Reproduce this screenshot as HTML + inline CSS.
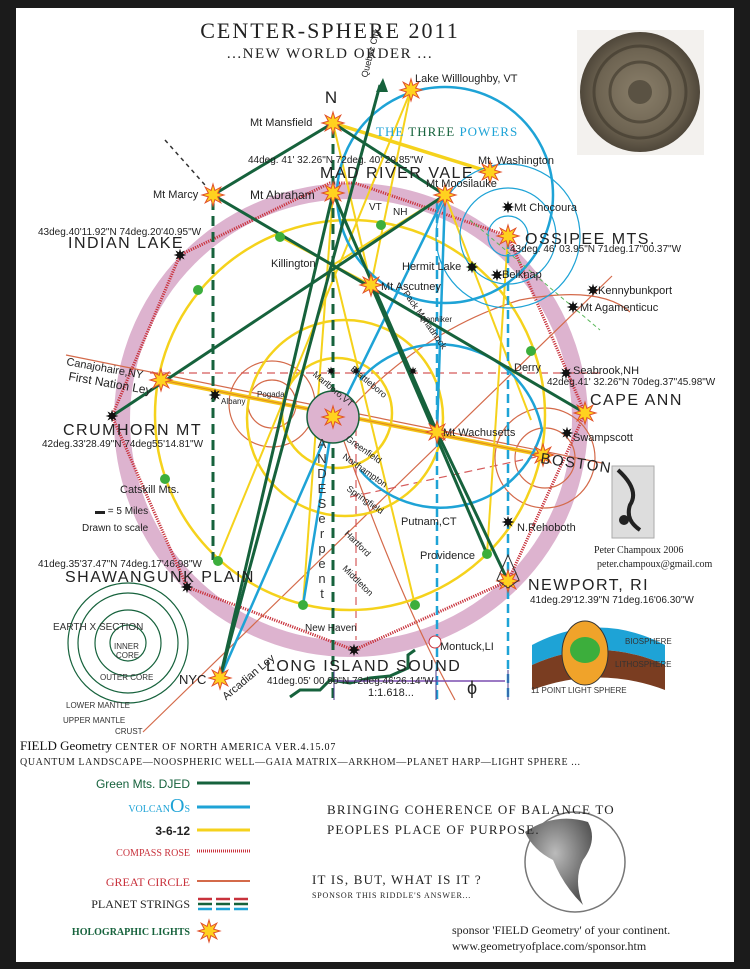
<!DOCTYPE html>
<html><head><meta charset="utf-8"><style>
html,body{margin:0;padding:0;background:#1b1b1b;}
svg{display:block;}
text{font-family:"Liberation Sans",sans-serif;}
.t{font-family:"Liberation Serif",serif;}
</style></head><body>
<svg width="750" height="969" viewBox="0 0 750 969" xmlns="http://www.w3.org/2000/svg">
<defs>
<symbol id="ys" viewBox="-12 -12 24 24" overflow="visible">
<polygon points="0,-11 1.91,-4.62 7.78,-7.78 4.62,-1.91 11,0 4.62,1.91 7.78,7.78 1.91,4.62 0,11 -1.91,4.62 -7.78,7.78 -4.62,1.91 -11,0 -4.62,-1.91 -7.78,-7.78 -1.91,-4.62" fill="#ffd21f" stroke="#e0502a" stroke-width="1"/>
</symbol>
<symbol id="bs" viewBox="-12 -12 24 24" overflow="visible">
<polygon points="0,-11 1.91,-4.62 7.78,-7.78 4.62,-1.91 11,0 4.62,1.91 7.78,7.78 1.91,4.62 0,11 -1.91,4.62 -7.78,7.78 -4.62,1.91 -11,0 -4.62,-1.91 -7.78,-7.78 -1.91,-4.62" fill="#111"/>
</symbol>
<radialGradient id="az" cx="50%" cy="50%" r="50%"><stop offset="0" stop-color="#8a7f6a"/><stop offset="0.7" stop-color="#6e6452"/><stop offset="1" stop-color="#4f473a"/></radialGradient>
<radialGradient id="gl" cx="45%" cy="40%" r="60%"><stop offset="0" stop-color="#bbb"/><stop offset="1" stop-color="#555"/></radialGradient>
</defs>
<rect x="16" y="8" width="718" height="954" fill="#fff"/>

<!-- title -->
<text x="330" y="38" text-anchor="middle" class="t" font-size="22" letter-spacing="2" fill="#222">CENTER-SPHERE 2011</text>
<text x="330" y="58" text-anchor="middle" class="t" font-size="15" letter-spacing="1.5" fill="#222">...NEW WORLD ORDER ...</text>
<!-- aztec stone -->
<rect x="577" y="30" width="127" height="125" fill="#f3f1ee"/>
<circle cx="640" cy="92" r="60" fill="url(#az)"/>
<circle cx="640" cy="92" r="46" fill="none" stroke="#3e372c" stroke-width="3" opacity="0.6"/>
<circle cx="640" cy="92" r="30" fill="none" stroke="#3e372c" stroke-width="3" opacity="0.6"/>
<circle cx="640" cy="92" r="12" fill="#5a5243"/>

<!-- pink band -->
<circle cx="351" cy="420" r="229" fill="none" stroke="#ddb3cf" stroke-width="16"/>
<polygon points="180,255 330,183 355,183 508,236 585,413 508,581 354,650 187,587 112,416" fill="none" stroke="#c8323c" stroke-width="3" stroke-dasharray="1.2 1.2"/>

<!-- great circle thin lines -->
<g stroke="#d46a4a" stroke-width="1.2" fill="none">
<line x1="66" y1="355" x2="602" y2="463"/>
<line x1="143" y1="732" x2="612" y2="276"/>
<path d="M340 420 Q420 330 520 300 Q600 285 630 312"/>
<path d="M340 430 Q400 600 455 700"/>
<circle cx="272" cy="404" r="43"/><circle cx="272" cy="404" r="24"/>
<circle cx="545" cy="458" r="50"/><circle cx="545" cy="458" r="30"/>
</g>
<g stroke="#d55a5a" stroke-width="1.2" stroke-dasharray="8 5" fill="none">
<line x1="150" y1="373" x2="600" y2="373"/>
<line x1="350" y1="497" x2="545" y2="455"/>
<line x1="356" y1="415" x2="356" y2="640"/>
</g>

<!-- yellow circles -->
<g stroke="#f5d21c" stroke-width="2.5" fill="none">
<circle cx="350" cy="415" r="195"/>
<circle cx="345" cy="418" r="98"/>
<circle cx="337" cy="413" r="55"/>
</g>
<g stroke="#f5d21c" stroke-width="2" fill="none">
<line x1="411" y1="90" x2="371" y2="285"/>
<line x1="411" y1="90" x2="218" y2="560"/>
<line x1="333" y1="123" x2="371" y2="285"/>
<line x1="333" y1="193" x2="303" y2="605"/>
<line x1="445" y1="195" x2="333" y2="265"/>
<line x1="445" y1="195" x2="531" y2="420"/>
<line x1="333" y1="265" x2="415" y2="605"/>
<line x1="508" y1="236" x2="487" y2="554"/>
<line x1="371" y1="285" x2="280" y2="237"/>
</g>
<line x1="333" y1="123" x2="490" y2="172" stroke="#f5d21c" stroke-width="3.5"/>
<line x1="161" y1="380" x2="543" y2="455" stroke="#f5c518" stroke-width="4"/>
<line x1="161" y1="380" x2="543" y2="455" stroke="#e08a20" stroke-width="1"/>

<!-- blue circles -->
<g stroke="#1ea3d6" stroke-width="2.5" fill="none">
<circle cx="445" cy="195" r="108"/>
<path d="M360 380 A105 105 0 0 1 542 430 A105 105 0 0 1 360 470"/>
</g>
<g stroke="#1ea3d6" stroke-width="1.2" fill="none">
<circle cx="508" cy="236" r="20"/><circle cx="508" cy="236" r="48"/><circle cx="508" cy="236" r="72"/>
</g>
<g stroke="#1ea3d6" stroke-width="2.5" fill="none">
<line x1="445" y1="195" x2="335" y2="420"/>
<line x1="333" y1="420" x2="220" y2="678"/>
<line x1="333" y1="420" x2="303" y2="605"/>
<line x1="445" y1="195" x2="437" y2="432"/>
</g>
<g stroke="#1ea3d6" stroke-width="2.5" stroke-dasharray="9 5">
<line x1="437" y1="200" x2="437" y2="700"/>
<line x1="508" y1="240" x2="508" y2="700"/>
</g>

<!-- dark green lines -->
<g stroke="#16623c" stroke-width="3" fill="none">
<line x1="333" y1="123" x2="213" y2="195"/>
<line x1="333" y1="123" x2="445" y2="195"/>
<line x1="213" y1="195" x2="585" y2="413"/>
<line x1="112" y1="416" x2="445" y2="195"/>
<line x1="333" y1="193" x2="437" y2="432"/>
<line x1="437" y1="432" x2="508" y2="581"/>
<line x1="371" y1="285" x2="487" y2="554"/>
<line x1="220" y1="678" x2="333" y2="193"/>
<line x1="220" y1="678" x2="380" y2="85"/>
<path d="M290 697 L300 690 L320 690 L330 680 L350 683 L370 678 L390 676 L408 668 L408 655 L415 650"/>
</g>
<polygon points="383,78 376,92 388,92" fill="#16623c"/>
<g stroke="#16623c" stroke-width="3" stroke-dasharray="10 6">
<line x1="213" y1="200" x2="213" y2="560"/>
<line x1="333" y1="128" x2="333" y2="700"/>
</g>
<line x1="165" y1="140" x2="205" y2="185" stroke="#333" stroke-width="1.5" stroke-dasharray="4 4"/>
<line x1="470" y1="220" x2="600" y2="330" stroke="#5cb85c" stroke-width="1" stroke-dasharray="4 3"/>

<line x1="335" y1="681" x2="505" y2="681" stroke="#7b4fb0" stroke-width="1.5"/>
<g stroke="#4a3a8a" stroke-width="1"><line x1="334" y1="670" x2="334" y2="700"/><line x1="436" y1="670" x2="436" y2="700"/><line x1="508" y1="670" x2="508" y2="700"/></g>
<circle cx="435" cy="642" r="6" fill="#fff" stroke="#c8323c"/>

<circle cx="333" cy="417" r="26" fill="#ddb3cf" stroke="#16623c" stroke-width="1.5"/>

<g fill="#3cae3c">
<circle cx="280" cy="237" r="5"/><circle cx="381" cy="225" r="5"/><circle cx="198" cy="290" r="5"/><circle cx="531" cy="351" r="5"/><circle cx="165" cy="479" r="5"/><circle cx="218" cy="561" r="5"/><circle cx="303" cy="605" r="5"/><circle cx="415" cy="605" r="5"/><circle cx="487" cy="554" r="5"/><circle cx="472" cy="267" r="4"/>
</g>

<g>
<use href="#ys" x="399" y="78" width="24" height="24"/>
<use href="#ys" x="321" y="111" width="24" height="24"/>
<use href="#ys" x="478" y="160" width="24" height="24"/>
<use href="#ys" x="201" y="183" width="24" height="24"/>
<use href="#ys" x="321" y="181" width="24" height="24"/>
<use href="#ys" x="433" y="183" width="24" height="24"/>
<use href="#ys" x="496" y="224" width="24" height="24"/>
<use href="#ys" x="359" y="273" width="24" height="24"/>
<use href="#ys" x="149" y="368" width="24" height="24"/>
<use href="#ys" x="573" y="401" width="24" height="24"/>
<use href="#ys" x="321" y="405" width="24" height="24"/>
<use href="#ys" x="425" y="420" width="24" height="24"/>
<use href="#ys" x="531" y="443" width="24" height="24"/>
<use href="#ys" x="496" y="569" width="24" height="24"/>
<use href="#ys" x="208" y="666" width="24" height="24"/>
</g>
<g>
<use href="#bs" x="501" y="200" width="14" height="14"/>
<use href="#bs" x="173" y="248" width="14" height="14"/>
<use href="#bs" x="465" y="260" width="14" height="14"/>
<use href="#bs" x="490" y="268" width="14" height="14"/>
<use href="#bs" x="586" y="283" width="14" height="14"/>
<use href="#bs" x="566" y="300" width="14" height="14"/>
<use href="#bs" x="559" y="366" width="14" height="14"/>
<use href="#bs" x="208" y="388" width="14" height="14"/>
<use href="#bs" x="105" y="409" width="14" height="14"/>
<use href="#bs" x="560" y="426" width="14" height="14"/>
<use href="#bs" x="501" y="515" width="14" height="14"/>
<use href="#bs" x="180" y="580" width="14" height="14"/>
<use href="#bs" x="347" y="643" width="14" height="14"/>
<use href="#bs" x="326" y="366" width="10" height="10"/>
<use href="#bs" x="351" y="366" width="10" height="10"/>
<use href="#bs" x="408" y="366" width="10" height="10"/>
</g>
<polygon points="508,555 497,580 508,588 519,580" fill="none" stroke="#333" stroke-width="1"/>

<g font-size="11" fill="#222">
<text x="331" y="103" text-anchor="middle" font-size="17">N</text>
<text x="415" y="82">Lake Willloughby, VT</text>
<text x="250" y="126">Mt Mansfield</text>
<text x="478" y="164">Mt. Washington</text>
<text x="153" y="198">Mt Marcy</text>
<text x="250" y="199" font-size="12">Mt Abraham</text>
<text x="426" y="187">Mt Moosilauke</text>
<text x="514" y="211">Mt Chocoura</text>
<text x="369" y="210" font-size="10">VT</text><text x="393" y="215" font-size="10">NH</text>
<text x="271" y="267">Killington</text>
<text x="402" y="270">Hermit Lake</text>
<text x="502" y="278">Belknap</text>
<text x="381" y="290">Mt Ascutney</text>
<text x="598" y="294">Kennybunkport</text>
<text x="580" y="311">Mt Agamenticuc</text>
<text x="420" y="322" font-size="8">Henniker</text>
<text x="514" y="371">Derry</text>
<text x="573" y="374">Seabrook,NH</text>
<text x="66" y="365" transform="rotate(10 66 365)">Canajohaire,NY</text>
<text x="68" y="380" font-size="12" transform="rotate(10 68 380)">First Nation Ley</text>
<text x="221" y="404" font-size="8">Albany</text>
<text x="257" y="397" font-size="8">Pogada</text>
<text x="547" y="385" font-size="10">42deg.41' 32.26"N  70deg.37"45.98"W</text>
<text x="443" y="436">Mt Wachusetts</text>
<text x="573" y="441">Swampscott</text>
<text x="120" y="493">Catskill Mts.</text>
<text x="95" y="514" font-size="10">▬ = 5 Miles</text>
<text x="82" y="531" font-size="10">Drawn to scale</text>
<text x="401" y="525">Putnam,CT</text>
<text x="517" y="531">N.Rehoboth</text>
<text x="420" y="559">Providence</text>
<text x="594" y="553" font-size="10" class="t">Peter Champoux 2006</text>
<text x="597" y="567" font-size="10" class="t">peter.champoux@gmail.com</text>
<text x="530" y="603" font-size="10">41deg.29'12.39"N  71deg.16'06.30"W</text>
<text x="305" y="631" font-size="10">New Haven</text>
<text x="440" y="650">Montuck,LI</text>
<text x="179" y="684" font-size="13">NYC</text>
<text x="368" y="696" font-size="11">1:1.618...</text>
<text x="467" y="694" font-size="18">ϕ</text>
<text x="38" y="235" font-size="10">43deg.40'11.92"N  74deg.20'40.95"W</text>
<text x="42" y="447" font-size="10">42deg.33'28.49"N  74deg55'14.81"W</text>
<text x="38" y="567" font-size="10">41deg.35'37.47"N  74deg.17'46.98"W</text>
<text x="248" y="163" font-size="10">44deg. 41' 32.26"N  72deg. 40' 29.85"W</text>
<text x="510" y="252" font-size="10">43deg. 46' 03.95"N  71deg.17"00.37"W</text>
<text x="267" y="684" font-size="10">41deg.05' 00.90"N 72deg.46'26.14"W</text>
<text x="316" y="365" font-size="9" transform="rotate(40 300 365)">Marlboro,VT</text>
<text x="350" y="370" font-size="9" transform="rotate(40 350 370)">Brattleboro</text>
<text x="345" y="440" font-size="9" transform="rotate(35 345 440)">Greenfield</text>
<text x="342" y="458" font-size="9" transform="rotate(35 342 458)">Northampton</text>
<text x="346" y="490" font-size="9" transform="rotate(35 346 490)">Springfield</text>
<text x="344" y="534" font-size="9" transform="rotate(45 344 534)">Hartford</text>
<text x="342" y="569" font-size="9" transform="rotate(45 342 569)">Middleton</text>
<text x="380" y="323" font-size="9" transform="rotate(55 420 330)">Pack Monadnock</text>
<text x="215" y="690" font-size="11" transform="rotate(-40 235 680)">Arcadian Ley</text>
<text x="367" y="78" font-size="9" transform="rotate(-75 367 78)">Quebec City</text>
</g>
<g fill="#333" font-size="13" text-anchor="middle">
<text x="322" y="448">A</text><text x="322" y="463">N</text><text x="322" y="478">D</text><text x="322" y="493">E</text><text x="322" y="508">S</text><text x="322" y="523">e</text><text x="322" y="538">r</text><text x="322" y="553">p</text><text x="322" y="568">e</text><text x="322" y="583">n</text><text x="322" y="598">t</text>
</g>
<g class="t" fill="#222" letter-spacing="1.5">
<text x="320" y="178" font-size="16">MAD RIVER VALE</text>
<text x="68" y="248" font-size="16">INDIAN LAKE</text>
<text x="525" y="244" font-size="16">OSSIPEE MTS.</text>
<text x="590" y="405" font-size="16">CAPE ANN</text>
<text x="63" y="435" font-size="16">CRUMHORN MT</text>
<text x="540" y="463" font-size="15" transform="rotate(8 540 463)">BOSTON</text>
<text x="528" y="590" font-size="16">NEWPORT, RI</text>
<text x="65" y="582" font-size="16">SHAWANGUNK PLAIN</text>
<text x="266" y="671" font-size="16">LONG ISLAND SOUND</text>
</g>
<text x="376" y="136" class="t" font-size="13" letter-spacing="1" fill="#1ea3d6">THE <tspan fill="#16623c">THREE</tspan> POWERS</text>

<rect x="612" y="466" width="42" height="72" fill="#ddd" stroke="#aaa"/>
<path d="M618 470 Q640 490 630 505 Q625 520 640 530" stroke="#222" stroke-width="4" fill="none"/>
<circle cx="624" cy="520" r="5" fill="#222"/>

<g stroke="#16623c" stroke-width="1.2" fill="none">
<circle cx="128" cy="643" r="60"/><circle cx="128" cy="643" r="50"/><circle cx="128" cy="643" r="33"/><circle cx="128" cy="643" r="18"/>
</g>
<g class="t" font-size="8" fill="#333">
<text x="53" y="630" font-size="10">EARTH X SECTION</text>
<text x="114" y="649">INNER</text><text x="116" y="658">CORE</text>
<text x="100" y="680">OUTER CORE</text>
<text x="66" y="708">LOWER MANTLE</text>
<text x="63" y="723">UPPER MANTLE</text>
<text x="115" y="734">CRUST</text>
</g>

<path d="M532 645 Q598 610 665 645 L665 665 Q598 635 532 665 Z" fill="#1ea3d6"/>
<path d="M532 665 Q598 635 665 665 L665 690 Q598 665 532 690 Z" fill="#7a3d21"/>
<ellipse cx="585" cy="653" rx="23" ry="32" fill="#f0a32a" stroke="#333"/>
<ellipse cx="585" cy="650" rx="15" ry="13" fill="#3cae3c"/>
<g class="t" font-size="8" fill="#333"><text x="625" y="644">BIOSPHERE</text><text x="615" y="667">LITHOSPHERE</text><text x="531" y="693">11 POINT LIGHT SPHERE</text></g>

<text x="20" y="750" class="t" font-size="13" fill="#111">FIELD Geometry <tspan font-size="10" letter-spacing="0.8">CENTER OF NORTH AMERICA  VER.4.15.07</tspan></text>
<text x="20" y="765" class="t" font-size="10" letter-spacing="0.6" fill="#222">QUANTUM LANDSCAPE—NOOSPHERIC WELL—GAIA MATRIX—ARKHOM—PLANET HARP—LIGHT SPHERE  ...</text>

<g font-size="12" text-anchor="end">
<text x="190" y="788" fill="#16623c">Green Mts. DJED</text>
<text x="190" y="812" class="t" fill="#1ea3d6" font-size="10">VOLCAN<tspan font-size="20">O</tspan>S</text>
<text x="190" y="835" fill="#222" font-weight="bold">3-6-12</text>
<text x="190" y="856" class="t" fill="#c8323c" font-size="10">COMPASS ROSE</text>
<text x="190" y="886" class="t" fill="#c8323c" font-size="12">GREAT CIRCLE</text>
<text x="190" y="908" class="t" fill="#222" font-size="12">PLANET STRINGS</text>
<text x="190" y="935" class="t" fill="#16623c" font-size="10" font-weight="bold">HOLOGRAPHIC LIGHTS</text>
</g>
<line x1="197" y1="783" x2="250" y2="783" stroke="#16623c" stroke-width="3"/>
<line x1="197" y1="807" x2="250" y2="807" stroke="#1ea3d6" stroke-width="3"/>
<line x1="197" y1="830" x2="250" y2="830" stroke="#f5d21c" stroke-width="3"/>
<line x1="197" y1="851" x2="250" y2="851" stroke="#c8323c" stroke-width="3" stroke-dasharray="1 1"/>
<line x1="197" y1="881" x2="250" y2="881" stroke="#d46a4a" stroke-width="2"/>
<g stroke-width="2.5"><line x1="198" y1="899" x2="252" y2="899" stroke="#c8323c" stroke-dasharray="14 4"/><line x1="198" y1="904" x2="252" y2="904" stroke="#16623c" stroke-dasharray="14 4"/><line x1="198" y1="909" x2="252" y2="909" stroke="#1ea3d6" stroke-dasharray="14 4"/></g>
<use href="#ys" x="197" y="919" width="24" height="24"/>

<ellipse cx="575" cy="862" rx="50" ry="50" fill="#fff" stroke="#777" stroke-width="1.5"/>
<path d="M525 832 Q555 812 588 822 Q598 840 583 860 Q573 880 583 905 Q563 885 553 860 Q533 850 525 832Z" fill="url(#gl)"/>
<text x="327" y="814" class="t" font-size="13" letter-spacing="1.2" fill="#222">BRINGING COHERENCE OF BALANCE TO</text>
<text x="327" y="834" class="t" font-size="13" letter-spacing="1.2" fill="#222">PEOPLES PLACE OF PURPOSE.</text>
<text x="312" y="884" class="t" font-size="13" letter-spacing="1.2" fill="#222">IT IS, BUT, WHAT IS IT ?</text>
<text x="312" y="898" class="t" font-size="8" letter-spacing="0.8" fill="#222">SPONSOR THIS RIDDLE'S ANSWER...</text>
<text x="452" y="934" class="t" font-size="12" fill="#222">sponsor 'FIELD Geometry' of your continent.</text>
<text x="452" y="950" class="t" font-size="12" fill="#222">www.geometryofplace.com/sponsor.htm</text>
</svg>
</body></html>
